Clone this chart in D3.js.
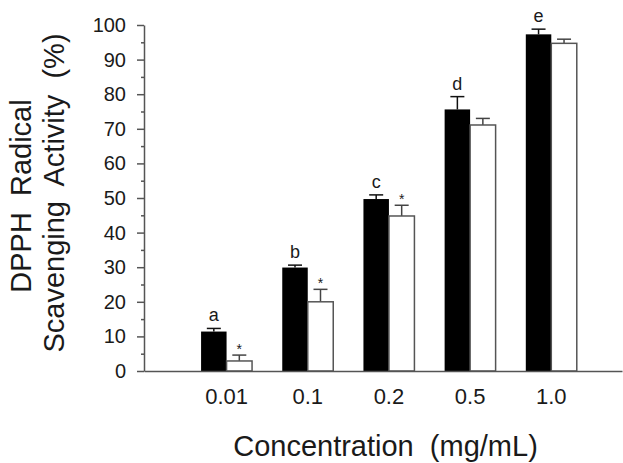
<!DOCTYPE html>
<html>
<head>
<meta charset="utf-8">
<script src="https://cdn.jsdelivr.net/npm/d3@7"></script>
<style>
    body { margin: 0; background: #fff; }
    .plotText { font-family: "Liberation Sans", Arial, sans-serif; fill: #1a1a1a; }
    .title { white-space: pre; }
</style>
</head>
<body>
<div id="dpph"></div>
<script>
// data
let concentrations = ["0.01", "0.1", "0.2", "0.5", "1.0"];
let blackValues = [11.4, 29.9, 49.7, 75.6, 97.3];
let blackErrors = [0.9, 0.7, 1.2, 3.7, 1.5];
let whiteValues = [2.9, 20.0, 44.8, 71.1, 94.7];
let whiteErrors = [1.7, 3.6, 3.1, 1.9, 1.2];
let groupLetters = ["a", "b", "c", "d", "e"];
let whiteStars = [true, true, true, false, false];
let yTicks = [0, 10, 20, 30, 40, 50, 60, 70, 80, 90, 100];
let yMinorTicks = [5, 15, 25, 35, 45, 55, 65, 75, 85, 95];

{
    let margin = {top: 25, right: 1, bottom: 92, left: 144},
    width = 623 - margin.left - margin.right,
    height = 463 - margin.top - margin.bottom;

    let svg = d3.select("#dpph")
        .append("svg")
        .attr("width", 623)
        .attr("height", 463)
        .append("g")
        .attr("transform", `translate(${margin.left}, ${margin.top})`);

    let data = concentrations.map(function(c, i) {
        return {
            conc: c,
            letter: groupLetters[i],
            star: whiteStars[i],
            bars: [
                {key: "black", value: blackValues[i], err: blackErrors[i]},
                {key: "white", value: whiteValues[i], err: whiteErrors[i]}
            ]
        };
    });

    // x scales
    let x = d3.scaleBand()
        .domain(concentrations)
        .range([0, width])
        .paddingInner(0.372)
        .paddingOuter(0.63)
        .align(0.558);

    let xSub = d3.scaleBand()
        .domain(["black", "white"])
        .range([0, x.bandwidth()]);

    // y scale
    let y = d3.scaleLinear()
        .domain([0, 100])
        .range([height, 0]);

    // minor y ticks
    svg.append("g")
        .call(d3.axisLeft(y).tickValues(yMinorTicks).tickSize(3).tickFormat(""))
        .call(g => g.select(".domain").remove())
        .call(g => g.selectAll("line").attr("stroke", "#555").attr("stroke-width", 1.5));

    // y axis
    svg.append("g")
        .call(d3.axisLeft(y).tickValues(yTicks).tickSize(7).tickPadding(11).tickSizeOuter(0))
        .call(g => g.select(".domain").attr("stroke", "#555").attr("stroke-width", 1.5))
        .call(g => g.selectAll("line").attr("stroke", "#555").attr("stroke-width", 1.5))
        .call(g => g.selectAll("text")
            .attr("class", "plotText")
            .style("font-size", "20px"));

    // bars
    let groups = svg.selectAll(".group")
        .data(data)
        .join("g")
        .attr("class", "group")
        .attr("transform", function(d) { return `translate(${x(d.conc)}, 0)`; });

    // error bars (upper half only)
    groups.selectAll(".errLine")
        .data(function(d) { return d.bars; })
        .join("line")
        .attr("class", "errLine")
        .attr("x1", function(b) { return xSub(b.key) + xSub.bandwidth() / 2; })
        .attr("x2", function(b) { return xSub(b.key) + xSub.bandwidth() / 2; })
        .attr("y1", function(b) { return y(b.value); })
        .attr("y2", function(b) { return y(b.value + b.err); })
        .attr("stroke", function(b) { return b.key == "black" ? "#111" : "#444"; })
        .attr("stroke-width", 1.5);

    groups.selectAll(".errCap")
        .data(function(d) { return d.bars; })
        .join("line")
        .attr("class", "errCap")
        .attr("x1", function(b) { return xSub(b.key) + xSub.bandwidth() / 2 - 7; })
        .attr("x2", function(b) { return xSub(b.key) + xSub.bandwidth() / 2 + 7; })
        .attr("y1", function(b) { return y(b.value + b.err); })
        .attr("y2", function(b) { return y(b.value + b.err); })
        .attr("stroke", function(b) { return b.key == "black" ? "#111" : "#444"; })
        .attr("stroke-width", 1.5);

    groups.selectAll("rect")
        .data(function(d) { return d.bars; })
        .join("rect")
        .attr("x", function(b) { return xSub(b.key); })
        .attr("y", function(b) { return y(b.value); })
        .attr("width", xSub.bandwidth())
        .attr("height", function(b) { return y(0) - y(b.value); })
        .attr("fill", function(b) { return b.key == "black" ? "#000" : "#fff"; })
        .attr("stroke", function(b) { return b.key == "black" ? "#000" : "#555"; })
        .attr("stroke-width", function(b) { return b.key == "black" ? 0 : 1.5; });

    // group letters above the black bars
    groups.append("text")
        .attr("class", "plotText")
        .attr("text-anchor", "middle")
        .style("font-size", "18px")
        .attr("x", xSub("black") + xSub.bandwidth() / 2)
        .attr("y", function(d) { return y(d.bars[0].value + d.bars[0].err) - 7; })
        .text(function(d) { return d.letter; });

    // asterisks above the white bars
    groups.filter(function(d) { return d.star; })
        .append("text")
        .attr("class", "plotText")
        .attr("text-anchor", "middle")
        .style("font-size", "14px")
        .attr("x", xSub("white") + xSub.bandwidth() / 2)
        .attr("y", function(d) { return y(d.bars[1].value + d.bars[1].err) - 1; })
        .text("*");

    // x axis
    svg.append("g")
        .attr("transform", `translate(0, ${height})`)
        .call(d3.axisBottom(x).tickSize(0).tickPadding(17).tickSizeOuter(0))
        .call(g => g.select(".domain").attr("stroke", "#555").attr("stroke-width", 1.5))
        .call(g => g.selectAll("text")
            .attr("class", "plotText")
            .style("font-size", "22px"));

    // axis titles
    svg.append("text")
        .attr("class", "plotText title")
        .attr("text-anchor", "middle")
        .attr("x", 385.5 - margin.left)
        .attr("y", 456 - margin.top)
        .style("font-size", "29px")
        .text("Concentration  (mg/mL)");

    svg.append("text")
        .attr("class", "plotText title")
        .attr("text-anchor", "middle")
        .attr("transform", `translate(${31 - margin.left}, ${196 - margin.top}) rotate(-90)`)
        .style("font-size", "29px")
        .text("DPPH  Radical");

    svg.append("text")
        .attr("class", "plotText title")
        .attr("text-anchor", "middle")
        .attr("transform", `translate(${64 - margin.left}, ${193 - margin.top}) rotate(-90)`)
        .style("font-size", "29px")
        .text("Scavenging  Activity  (%)");
}
</script>
</body>
</html>
